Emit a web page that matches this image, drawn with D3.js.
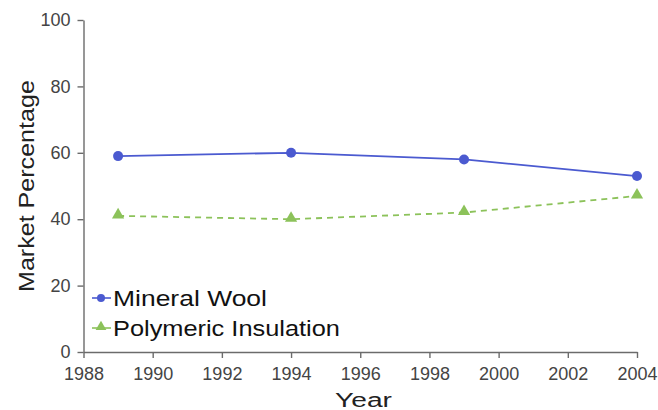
<!DOCTYPE html>
<html><head><meta charset="utf-8">
<script src="https://cdn.jsdelivr.net/npm/d3@7"></script>
<style>body{margin:0;background:#fff}</style>
</head><body>
<svg id="c" width="658" height="410"></svg>
<script>
const years = [1989, 1994, 1999, 2004];
const mineralWool = [59, 60, 58, 53];
const polymeric = [41, 40, 42, 47];
const xTicks = [1988,1990,1992,1994,1996,1998,2000,2002,2004];
const yTicks = [0,20,40,60,80,100];
const seriesNames = ["Mineral Wool", "Polymeric Insulation"];

const svg = d3.select("#c");
const font = "Liberation Sans, Arial, sans-serif";
const x = d3.scaleLinear().domain([1988,2004]).range([83.5,637]);
const y = d3.scaleLinear().domain([0,100]).range([352,20]);
const axisColor = "#6b6b6b";

const gx = svg.append("g").attr("transform","translate(0,352)")
  .call(d3.axisBottom(x).tickValues(xTicks).tickFormat(d3.format("d")).tickSizeInner(6).tickSizeOuter(0).tickPadding(9));
const gy = svg.append("g").attr("transform","translate(83.5,0)")
  .call(d3.axisLeft(y).tickValues(yTicks).tickSizeInner(6).tickSizeOuter(0).tickPadding(7));
[gx,gy].forEach(g=>{
  g.select(".domain").attr("stroke",axisColor).attr("stroke-width",1.4);
  g.selectAll(".tick line").attr("stroke",axisColor).attr("stroke-width",1.4);
  g.selectAll(".tick text").attr("fill","#444").attr("font-family",font).attr("font-size",18);
});

const line = d3.line().x((d,i)=>x(years[i])).y(d=>y(d));
const blue = "#4b5ad0", green = "#8cc25a";
svg.append("path").datum(mineralWool).attr("d",line).attr("fill","none").attr("stroke",blue).attr("stroke-width",1.8);
svg.append("path").datum(polymeric).attr("d",line).attr("fill","none").attr("stroke",green).attr("stroke-width",1.8).attr("stroke-dasharray","6,5");
svg.selectAll(".mw").data(mineralWool).enter().append("circle")
  .attr("cx",(d,i)=>x(years[i])).attr("cy",d=>y(d)).attr("r",5).attr("fill",blue);
const tri = d3.symbol().type(d3.symbolTriangle).size(65);
svg.selectAll(".pi").data(polymeric).enter().append("path").attr("d",tri)
  .attr("transform",(d,i)=>`translate(${x(years[i])},${y(d)-1})`).attr("fill",green);

// stretched text helper: scale horizontally (in text direction) to target width
function stretchText(g, txt, size, target, anchorMid){
  const t = g.append("text").attr("font-family",font).attr("font-size",size).attr("fill","#111").text(txt);
  const w = t.node().getComputedTextLength();
  const s = target / w;
  if (anchorMid) t.attr("x", -w/2);
  t.attr("transform", `scale(${s},1)`);
  return t;
}

// legend
const ly = [298, 328];
const lw = [154, 227];
const lg = svg.append("g");
lg.append("line").attr("x1",92).attr("x2",111).attr("y1",ly[0]).attr("y2",ly[0]).attr("stroke",blue).attr("stroke-width",1.6);
lg.append("circle").attr("cx",101).attr("cy",ly[0]).attr("r",4).attr("fill",blue);
lg.append("line").attr("x1",92).attr("x2",111).attr("y1",ly[1]).attr("y2",ly[1]).attr("stroke",green).attr("stroke-width",1.6);
lg.append("path").attr("d",d3.symbol().type(d3.symbolTriangle).size(50)).attr("transform",`translate(101,${ly[1]-1})`).attr("fill",green);
seriesNames.forEach((n,i)=>{
  const g = lg.append("g").attr("transform",`translate(113,${ly[i]+7.5})`);
  stretchText(g, n, 21.5, lw[i], false);
});

const gyT = svg.append("g").attr("transform","translate(34,186) rotate(-90)");
stretchText(gyT, "Market Percentage", 22, 212, true).attr("fill","#222");
const gxT = svg.append("g").attr("transform","translate(363.5,406.5)");
stretchText(gxT, "Year", 21, 57, true).attr("fill","#222");
</script>
</body></html>
